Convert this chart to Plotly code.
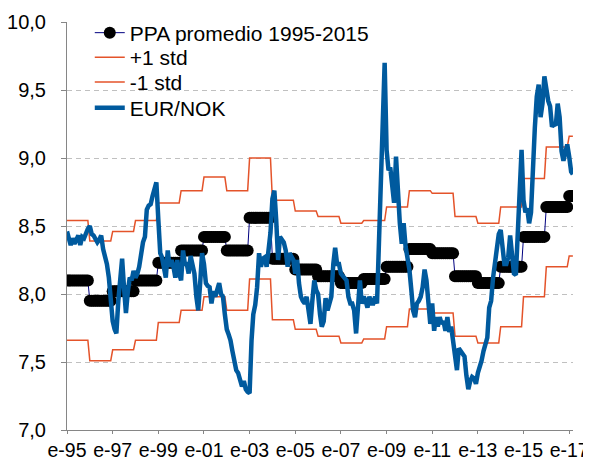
import plotly.graph_objects as go
import pandas as pd

# ---- datos ----
years = list(range(1995, 2018))
ppa_anual = [8.10, 7.95, 8.02, 8.10, 8.23, 8.32, 8.42, 8.32, 8.56, 8.26, 8.18, 8.13,
             8.08, 8.11, 8.20, 8.33, 8.30, 8.13, 8.08, 8.20, 8.42, 8.64, 8.72]
sup_anual = [8.54, 8.39, 8.46, 8.54, 8.67, 8.76, 8.86, 8.76, 9.00, 8.69, 8.61, 8.57,
             8.52, 8.54, 8.64, 8.76, 8.74, 8.57, 8.52, 8.64, 8.85, 9.08, 9.16]
inf_anual = [7.66, 7.51, 7.59, 7.66, 7.79, 7.88, 7.98, 7.88, 8.11, 7.81, 7.74, 7.69,
             7.64, 7.67, 7.76, 7.89, 7.86, 7.69, 7.64, 7.76, 7.98, 8.20, 8.28]

eurnok_1995 = [8.46, 8.42, 8.36, 8.41, 8.37, 8.40, 8.43, 8.36, 8.42, 8.41, 8.45, 8.48]
eurnok_1996 = [8.50, 8.44, 8.43, 8.40, 8.38, 8.40, 8.43, 8.33, 8.27, 8.22, 8.12, 7.95]
eurnok_1997 = [7.80, 7.74, 7.71, 7.95, 8.15, 8.26, 8.05, 7.86, 8.02, 8.12, 8.10, 8.17]
eurnok_1998 = [8.12, 8.15, 8.20, 8.32, 8.38, 8.42, 8.62, 8.65, 8.66, 8.72, 8.78, 8.82]
eurnok_1999 = [8.55, 8.30, 8.27, 8.20, 8.12, 8.32, 8.20, 8.25, 8.20, 8.12, 8.25, 8.15]
eurnok_2000 = [8.10, 8.32, 8.22, 8.22, 8.15, 8.28, 8.22, 8.15, 7.98, 7.88, 8.08, 8.30]
eurnok_2001 = [8.22, 8.08, 8.06, 8.05, 7.93, 8.02, 7.98, 8.05, 8.08, 8.00, 7.98, 7.85]
eurnok_2002 = [7.74, 7.70, 7.66, 7.58, 7.50, 7.44, 7.42, 7.38, 7.32, 7.36, 7.30, 7.28]
eurnok_2003 = [7.27, 7.66, 7.85, 7.92, 8.05, 8.30, 8.20, 8.26, 8.27, 8.20, 8.30, 8.45]
eurnok_2004 = [8.70, 8.76, 8.55, 8.25, 8.42, 8.40, 8.38, 8.32, 8.20, 8.30, 8.28, 8.25]
eurnok_2005 = [8.15, 8.25, 8.08, 7.98, 7.95, 7.93, 7.98, 7.86, 7.78, 7.95, 8.10, 8.03]
eurnok_2006 = [8.00, 7.85, 7.76, 7.80, 7.97, 7.88, 7.92, 7.98, 8.22, 8.34, 8.22, 8.22]
eurnok_2007 = [8.15, 8.13, 8.12, 8.10, 7.98, 7.93, 7.93, 7.88, 7.71, 7.93, 8.10, 7.93]
eurnok_2008 = [7.98, 7.95, 7.90, 7.98, 7.93, 7.93, 7.98, 7.93, 8.40, 8.81, 9.30, 9.70]
eurnok_2009 = [9.06, 8.91, 8.93, 8.76, 8.67, 9.01, 8.72, 8.52, 8.37, 8.52, 8.35, 8.27]
eurnok_2010 = [8.18, 8.03, 7.88, 7.83, 7.93, 7.95, 7.98, 8.05, 8.18, 8.10, 7.88, 7.78]
eurnok_2011 = [7.93, 7.73, 7.83, 7.76, 7.83, 7.78, 7.80, 7.73, 7.83, 7.72, 7.76, 7.65]
eurnok_2012 = [7.58, 7.44, 7.60, 7.58, 7.56, 7.54, 7.40, 7.30, 7.36, 7.39, 7.38, 7.34]
eurnok_2013 = [7.42, 7.46, 7.51, 7.58, 7.63, 7.68, 7.90, 7.95, 8.12, 8.25, 8.35, 8.44]
eurnok_2014 = [8.47, 8.32, 8.22, 8.22, 8.27, 8.43, 8.30, 8.15, 8.14, 8.44, 8.74, 9.06]
eurnok_2015 = [8.69, 8.60, 8.63, 8.52, 8.60, 8.96, 9.22, 9.45, 9.54, 9.30, 9.40, 9.60]
eurnok_2016 = [9.48, 9.42, 9.38, 9.23, 9.25, 9.24, 9.40, 9.30, 9.05, 8.98, 9.04, 9.10]
eurnok_2017 = [9.01, 8.90, 8.88]

eurnok_por_anio = [eurnok_1995, eurnok_1996, eurnok_1997, eurnok_1998, eurnok_1999,
                   eurnok_2000, eurnok_2001, eurnok_2002, eurnok_2003, eurnok_2004,
                   eurnok_2005, eurnok_2006, eurnok_2007, eurnok_2008, eurnok_2009,
                   eurnok_2010, eurnok_2011, eurnok_2012, eurnok_2013, eurnok_2014,
                   eurnok_2015, eurnok_2016, eurnok_2017]

tick_years = list(range(1995, 2018, 2))
tick_labels = ["e-%02d" % (y % 100) for y in tick_years]

# ---- series mensuales ----
eurnok = [v for serie in eurnok_por_anio for v in serie]
meses = [len(s) for s in eurnok_por_anio]
ppa = [v for v, n in zip(ppa_anual, meses) for _ in range(n)]
sup = [v for v, n in zip(sup_anual, meses) for _ in range(n)]
inf = [v for v, n in zip(inf_anual, meses) for _ in range(n)]
fechas = pd.date_range("1995-01-01", periods=len(eurnok), freq="MS")

ORANGE = "#E4532A"
BLUE = "#005A9E"
AXIS = "#868686"
FONT = "Arial, Liberation Sans, sans-serif"

fig = go.Figure()
fig.add_trace(go.Scatter(x=fechas, y=ppa, mode="lines+markers", name="PPA promedio 1995-2015",
                         line=dict(color="#000080", width=1),
                         marker=dict(color="black", size=12), legend="legend",
                         showlegend=True))
fig.add_trace(go.Scatter(x=fechas, y=sup, mode="lines", name="+1 std",
                         line=dict(color=ORANGE, width=1.5), legend="legend2"))
fig.add_trace(go.Scatter(x=fechas, y=inf, mode="lines", name="-1 std",
                         line=dict(color=ORANGE, width=1.5), legend="legend3"))
fig.add_trace(go.Scatter(x=fechas, y=eurnok, mode="lines", name="EUR/NOK",
                         line=dict(color=BLUE, width=4.5), legend="legend4"))

# the page body adds an 8px offset, so margins are reduced accordingly
leg_common = dict(x=0.045, xanchor="left", yanchor="middle", bgcolor="rgba(0,0,0,0)",
                  font=dict(family=FONT, size=21, color="black"))
fig.update_layout(
    width=583, height=461,
    margin=dict(l=59, r=18, t=14, b=39, autoexpand=False),
    paper_bgcolor="white", plot_bgcolor="white",
    separators=",.",
    showlegend=True,
    font=dict(family=FONT, size=20, color="black"),
    legend=dict(y=0.973, **leg_common),
    legend2=dict(y=0.913, **leg_common),
    legend3=dict(y=0.852, **leg_common),
    legend4=dict(y=0.789, **leg_common),
    xaxis=dict(type="date", range=["1995-01-01", "2017-03-03"], automargin=False,
               tickvals=[pd.Timestamp(y, 1, 1) for y in tick_years], ticktext=tick_labels,
               showgrid=False, showline=True, linecolor=AXIS, linewidth=1,
               ticks="outside", ticklen=3, tickcolor=AXIS,
               tickfont=dict(family=FONT, size=19.5, color="black")),
    yaxis=dict(range=[7, 10], dtick=0.5, tick0=7, tickformat=".1f", automargin=False,
               showgrid=True, gridcolor="#C0C0C0", gridwidth=1, griddash="5px,4px",
               showline=True, linecolor=AXIS, linewidth=1, zeroline=False,
               ticks="outside", ticklen=5, tickcolor=AXIS, ticklabelstandoff=11,
               tickfont=dict(family=FONT, size=20, color="black")),
)

fig.write_html("out.html")
